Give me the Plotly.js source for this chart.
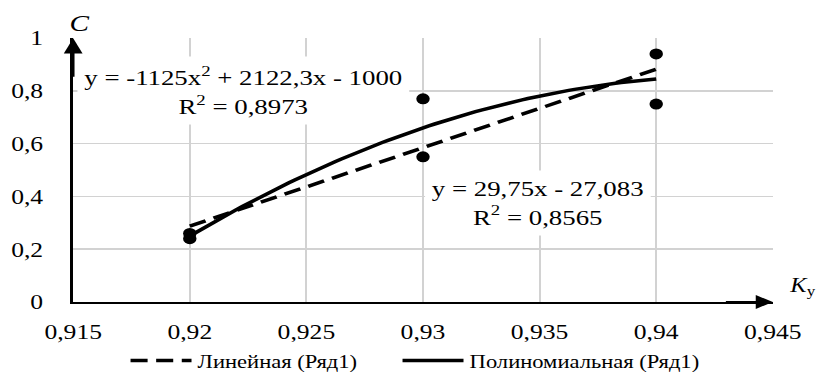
<!DOCTYPE html>
<html>
<head>
<meta charset="utf-8">
<script src="https://cdn.plot.ly/plotly-3.0.1.min.js"></script>
<style>
  html, body { margin: 0; padding: 0; background: #fff; overflow: hidden; }
  #chart { width: 669px; height: 376px; transform: scaleX(1.2197); transform-origin: 0 0; }
</style>
</head>
<body>
<div id="chart"></div>
<script>
// ---- data ----
const xValues = [0.92, 0.92, 0.93, 0.93, 0.94, 0.94];
const yValues = [0.24, 0.26, 0.77, 0.55, 0.94, 0.75];

const xTickVals = [0.915, 0.92, 0.925, 0.93, 0.935, 0.94, 0.945];
const xTickText = ['0,915', '0,92', '0,925', '0,93', '0,935', '0,94', '0,945'];
const yTickVals = [0, 0.2, 0.4, 0.6, 0.8, 1];
const yTickText = ['0', '0,2', '0,4', '0,6', '0,8', '1'];

const seriesName = 'Ряд1';
const linName = 'Линейная (Ряд1)';
const polyName = 'Полиномиальная (Ряд1)';
const polyEqText = ['y = -1125x<sup>2</sup> + 2122,3x - 1000', 'R<sup>2</sup> = 0,8973'];
const linEqText = ['y = 29,75x - 27,083', 'R<sup>2</sup> = 0,8565'];

// ---- least-squares trendlines computed from the data ----
function polyfit(xs, ys, deg) {
  const xm = xs.reduce((a, b) => a + b, 0) / xs.length;
  const n = deg + 1;
  const M = Array.from({length: n}, () => Array(n + 1).fill(0));
  xs.forEach((x, k) => {
    const u = x - xm;
    for (let i = 0; i < n; i++) {
      for (let j = 0; j < n; j++) M[i][j] += Math.pow(u, i + j);
      M[i][n] += Math.pow(u, i) * ys[k];
    }
  });
  for (let c = 0; c < n; c++) {
    let p = c;
    for (let r = c + 1; r < n; r++) if (Math.abs(M[r][c]) > Math.abs(M[p][c])) p = r;
    [M[c], M[p]] = [M[p], M[c]];
    for (let r = 0; r < n; r++) {
      if (r === c) continue;
      const f = M[r][c] / M[c][c];
      for (let j = c; j <= n; j++) M[r][j] -= f * M[c][j];
    }
  }
  const coef = M.map((row, i) => row[n] / row[i]);
  return x => coef.reduce((s, a, i) => s + a * Math.pow(x - xm, i), 0);
}
const linFn = polyfit(xValues, yValues, 1);
const polyFn = polyfit(xValues, yValues, 2);
const xMin = Math.min(...xValues), xMax = Math.max(...xValues);
const curveX = [];
for (let i = 0; i <= 80; i++) curveX.push(xMin + (xMax - xMin) * i / 80);

const FONT = "'Liberation Serif', 'Times New Roman', serif";

const traces = [
  {
    x: xValues, y: yValues, name: seriesName, type: 'scatter', mode: 'markers',
    marker: {color: '#000', size: 11}, showlegend: false, hoverinfo: 'skip'
  },
  {
    x: curveX, y: curveX.map(linFn), name: linName, type: 'scatter', mode: 'lines',
    line: {color: '#000', width: 3.5, dash: '14px,7px'}, legendwidth: 158
  },
  {
    x: curveX, y: curveX.map(polyFn), name: polyName, type: 'scatter', mode: 'lines',
    line: {color: '#000', width: 3.5}
  }
];

const layout = {
  width: 669, height: 376,
  margin: {l: 60, r: 35, t: 38, b: 74},
  paper_bgcolor: '#fff', plot_bgcolor: '#fff',
  separators: ', ',
  font: {family: FONT, size: 21, color: '#000'},
  showlegend: true,
  legend: {
    orientation: 'h', xref: 'container', yref: 'container',
    x: 0.509, xanchor: 'center', y: 0.04, yanchor: 'middle',
    font: {family: FONT, size: 18.5, color: '#000'},
    itemwidth: 50, traceorder: 'normal'
  },
  xaxis: {
    range: [0.915, 0.94502], tickmode: 'array', tickvals: xTickVals, ticktext: xTickText,
    showgrid: true, gridcolor: '#d2d2d2', gridwidth: 1.6,
    showline: true, linecolor: '#000', linewidth: 2, zeroline: false,
    ticks: '', ticklabelstandoff: 10, fixedrange: true
  },
  yaxis: {
    range: [0, 1.0005], tickmode: 'array', tickvals: yTickVals, ticktext: yTickText,
    showgrid: true, gridcolor: '#d2d2d2', gridwidth: 1.6,
    showline: true, linecolor: '#000', linewidth: 2.4, zeroline: false,
    ticks: '', ticklabelstandoff: 18, fixedrange: true
  },
  annotations: [
    {x: 0.92229, y: 0.80, xref: 'x', yref: 'y', text: polyEqText.join('<br>'),
     showarrow: false, align: 'center', bgcolor: '#fff', borderpad: 5,
     font: {family: FONT, size: 22, color: '#000'}},
    {x: 0.93491, y: 0.375, xref: 'x', yref: 'y', text: linEqText.join('<br>'),
     showarrow: false, align: 'center', bgcolor: '#fff', borderpad: 5,
     font: {family: FONT, size: 22, color: '#000'}},
    {x: 0.915, y: 1, xref: 'x', yref: 'y', ax: 0, ay: 40, text: '', showarrow: true,
     arrowhead: 2, arrowsize: 1.4, arrowwidth: 2.2, arrowcolor: '#000', standoff: 0},
    {x: 0.945, y: 0, xref: 'x', yref: 'y', ax: -40, ay: 0, text: '', showarrow: true,
     arrowhead: 2, arrowsize: 1.4, arrowwidth: 2, arrowcolor: '#000', standoff: 0},
    {x: 0.0095, y: 1.055, xref: 'paper', yref: 'paper', xanchor: 'center', yanchor: 'middle',
     text: '<i>C</i>', showarrow: false,
     font: {family: FONT, size: 24, color: '#000'}},
    {x: 1.02, y: 0.058, xref: 'paper', yref: 'paper', xanchor: 'left', yanchor: 'middle',
     text: '<i>K</i><sub>у</sub>', showarrow: false,
     font: {family: FONT, size: 20, color: '#000'}}
  ]
};

Plotly.newPlot('chart', traces, layout, {displayModeBar: false, staticPlot: true});
</script>
</body>
</html>
